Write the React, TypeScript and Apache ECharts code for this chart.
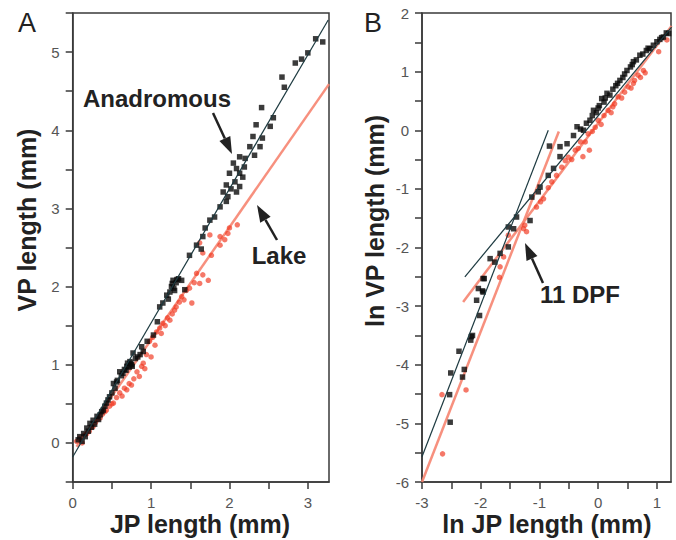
import React, { useEffect, useRef } from "react";
import * as echarts from "echarts";

const FONT = '"Liberation Sans", Arial, Helvetica, sans-serif';

// ---------- Panel A: VP length vs JP length (mm) ----------
const A_X_LABELS = [0, 1, 2, 3];
const A_X_TICKS = [0, 0.5, 1, 1.5, 2, 2.5, 3];
const A_Y_LABELS = [0, 1, 2, 3, 4, 5];
const A_Y_TICKS = [-0.5, 0, 0.5, 1, 1.5, 2, 2.5, 3, 3.5, 4, 4.5, 5, 5.5];

const A_ANADROMOUS = [
  [0.07, 0.04], [0.09, 0.08], [0.12, 0.02], [0.14, 0.12], [0.16, 0.08], [0.18, 0.19], [0.2, 0.15],
  [0.22, 0.25], [0.24, 0.2], [0.26, 0.29], [0.28, 0.24], [0.31, 0.34], [0.33, 0.3], [0.35, 0.36],
  [0.37, 0.4], [0.39, 0.42], [0.41, 0.47], [0.43, 0.51], [0.45, 0.55], [0.47, 0.59], [0.5, 0.64],
  [0.52, 0.76], [0.54, 0.7], [0.56, 0.78], [0.57, 0.8], [0.6, 0.91], [0.62, 0.86], [0.64, 0.89],
  [0.66, 0.94], [0.68, 0.93], [0.69, 0.98], [0.7, 1.02], [0.72, 0.97], [0.73, 1.04], [0.74, 1.02],
  [0.75, 1.0], [0.76, 0.98], [0.77, 1.15], [0.8, 1.08], [0.83, 1.1], [0.86, 1.13], [0.88, 1.23],
  [0.9, 1.17], [0.95, 1.3], [1.03, 1.38], [1.08, 1.55], [1.11, 1.74], [1.15, 1.79], [1.2, 1.89],
  [1.22, 1.84], [1.24, 1.93], [1.26, 2.0], [1.27, 2.04], [1.28, 2.08], [1.29, 1.98], [1.3, 1.95],
  [1.32, 2.05], [1.33, 2.09], [1.35, 2.1], [1.39, 2.08], [1.43, 1.96], [1.49, 2.4], [1.58, 2.53],
  [1.64, 2.48], [1.66, 2.64], [1.69, 2.75], [1.75, 2.85], [1.81, 2.89], [1.88, 3.02], [1.92, 3.21],
  [1.96, 3.09], [1.96, 3.3], [1.98, 3.15], [2.0, 3.45], [2.02, 3.25], [2.05, 3.58], [2.07, 3.34],
  [2.09, 3.51], [2.09, 3.21], [2.13, 3.66], [2.13, 3.45], [2.13, 3.28], [2.17, 3.4], [2.19, 3.53],
  [2.2, 3.64], [2.26, 3.79], [2.3, 3.92], [2.32, 3.68], [2.34, 4.07], [2.39, 3.79], [2.42, 3.9],
  [2.41, 4.29], [2.52, 4.05], [2.56, 4.16], [2.67, 4.68], [2.7, 4.55], [2.84, 4.86], [2.92, 4.91],
  [3.0, 4.99], [3.1, 5.17], [3.19, 5.13],
];

const A_LAKE = [
  [0.05, 0.02], [0.09, 0.06], [0.12, 0.0], [0.15, 0.1], [0.18, 0.12], [0.21, 0.15], [0.24, 0.2],
  [0.26, 0.21], [0.29, 0.26], [0.32, 0.3], [0.35, 0.32], [0.38, 0.37], [0.41, 0.4], [0.43, 0.42],
  [0.47, 0.47], [0.5, 0.5], [0.52, 0.51], [0.56, 0.58], [0.6, 0.64], [0.63, 0.6], [0.66, 0.7],
  [0.69, 0.68], [0.72, 0.76], [0.75, 0.74], [0.78, 0.82], [0.82, 0.91], [0.85, 0.85], [0.88, 0.98],
  [0.9, 1.02], [0.92, 0.95], [0.94, 1.13], [0.98, 1.3], [1.0, 1.1], [1.02, 1.35], [1.05, 1.25],
  [1.07, 1.42], [1.11, 1.47], [1.13, 1.4], [1.15, 1.53], [1.18, 1.5], [1.21, 1.6], [1.24, 1.57],
  [1.27, 1.65], [1.3, 1.7], [1.32, 1.74], [1.36, 1.8], [1.39, 1.87], [1.42, 1.83], [1.45, 1.95],
  [1.49, 1.98], [1.52, 1.79], [1.55, 2.05], [1.58, 2.17], [1.62, 2.04], [1.66, 2.15], [1.73, 2.08],
  [1.62, 2.56], [1.66, 2.43], [1.75, 2.66], [1.77, 2.4], [1.88, 2.64], [1.88, 2.53], [1.94, 2.6],
  [1.98, 2.68], [2.0, 2.75], [2.1, 2.79],
];

const A_ANADROMOUS_FIT = [[0, -0.18], [3.26, 5.41]];
const A_LAKE_FIT = [[0.05, -0.05], [3.27, 4.59]];

// ---------- Panel B: ln VP length vs ln JP length ----------
const B_X_LABELS = [-3, -2, -1, 0, 1];
const B_X_TICKS = [-3, -2.5, -2, -1.5, -1, -0.5, 0, 0.5, 1];
const B_Y_LABELS = [-6, -5, -4, -3, -2, -1, 0, 1, 2];
const B_Y_TICKS = [-6, -5.5, -5, -4.5, -4, -3.5, -3, -2.5, -2, -1.5, -1, -0.5, 0, 0.5, 1, 1.5, 2];

const B_ANADROMOUS = [
  [-2.52, -4.98], [-2.53, -4.51], [-2.51, -4.14], [-2.37, -3.77], [-2.31, -4.21], [-2.28, -4.08],
  [-2.17, -3.58], [-2.14, -3.5], [-2.16, -3.52], [-2.02, -3.16], [-2.07, -2.9], [-1.97, -2.74],
  [-1.94, -2.53], [-1.96, -2.76], [-2.04, -2.7], [-1.96, -2.53], [-1.84, -2.19], [-1.76, -2.25],
  [-1.67, -2.1], [-1.53, -1.99], [-1.53, -1.65], [-1.44, -1.68], [-1.39, -1.48], [-1.16, -1.54],
  [-1.13, -1.14], [-1.02, -1.05], [-0.99, -0.97], [-0.85, -0.77], [-0.83, -0.27], [-0.76, -0.65],
  [-0.65, -0.45], [-0.65, -0.28], [-0.53, -0.23], [-0.42, -0.09], [-0.36, 0.06], [-0.3, 0.02],
  [-0.25, 0.0], [-0.2, 0.12], [-0.14, 0.17], [-0.1, 0.25], [-0.08, 0.34], [-0.03, 0.3], [0.0, 0.38],
  [0.02, 0.42], [0.06, 0.54], [0.1, 0.48], [0.12, 0.55], [0.15, 0.63], [0.2, 0.6], [0.25, 0.7],
  [0.3, 0.76], [0.33, 0.8], [0.37, 0.85], [0.42, 0.9], [0.45, 0.96], [0.49, 1.02], [0.55, 1.08],
  [0.58, 1.12], [0.6, 1.17], [0.65, 1.2], [0.71, 1.28], [0.76, 1.3], [0.82, 1.36], [0.85, 1.4],
  [0.88, 1.39], [0.94, 1.45], [1.0, 1.51], [1.05, 1.55], [1.08, 1.58], [1.11, 1.59], [1.16, 1.66],
  [1.2, 1.65],
];

const B_LAKE = [
  [-2.65, -5.52], [-2.66, -4.51], [-2.25, -4.43], [-1.68, -2.51], [-1.67, -2.33], [-1.61, -2.16],
  [-1.53, -1.79], [-1.27, -1.68], [-1.22, -1.73], [-1.25, -1.62], [-1.05, -1.31], [-0.98, -1.22],
  [-0.93, -1.17], [-0.85, -0.98], [-0.79, -0.88], [-0.71, -0.77], [-0.62, -0.63], [-0.56, -0.52],
  [-0.51, -0.46], [-0.45, -0.5], [-0.39, -0.34], [-0.34, -0.31], [-0.3, -0.2], [-0.26, -0.45],
  [-0.22, -0.2], [-0.17, -0.06], [-0.15, -0.34], [-0.1, -0.02], [-0.05, 0.05], [0.0, 0.17],
  [0.05, 0.1], [0.1, 0.25], [0.17, 0.34], [0.22, 0.3], [0.25, 0.4], [0.28, 0.45], [0.34, 0.57],
  [0.4, 0.55], [0.45, 0.65], [0.51, 0.74], [0.56, 0.72], [0.6, 0.8], [0.62, 0.85], [0.68, 0.94],
  [0.72, 0.9], [0.77, 1.02], [0.8, 0.98], [1.03, 1.34], [1.17, 1.54],
];

const B_ANADROMOUS_EARLY_FIT = [[-3, -5.57], [-0.85, 0]];
const B_ANADROMOUS_LATE_FIT = [[-2.27, -2.5], [1.25, 1.76]];
const B_LAKE_EARLY_FIT = [[-3, -6], [-0.67, -0.02]];
const B_LAKE_LATE_FIT = [[-2.3, -2.93], [1.25, 1.78]];

const AXIS_COLOR = "#3a3a3a";
const BLACK_PT = "#0a0a0a";
const RED_PT = "rgba(240,56,32,0.85)";
const BLACK_LINE = "#1d3a40";
const RED_LINE = "rgba(246,132,112,0.9)";

function arrow(x1: number, y1: number, x2: number, y2: number) {
  const headLen = 17;
  const headW = 6;
  const dx = x2 - x1;
  const dy = y2 - y1;
  const L = Math.hypot(dx, dy);
  const ux = dx / L;
  const uy = dy / L;
  const bx = x2 - ux * headLen;
  const by = y2 - uy * headLen;
  const px = -uy;
  const py = ux;
  return [
    { type: "line", shape: { x1, y1, x2: bx, y2: by }, style: { stroke: "#222", lineWidth: 2.5 } },
    {
      type: "polygon",
      shape: { points: [[x2, y2], [bx + px * headW, by + py * headW], [bx - px * headW, by - py * headW]] },
      style: { fill: "#222" },
    },
  ];
}

function txt(text: string, x: number, y: number, size: number, bold: boolean, rotate = 0) {
  return {
    type: "text",
    x,
    y,
    rotation: rotate,
    style: {
      text,
      fontSize: size,
      fontWeight: bold ? "bold" : "normal",
      fontFamily: FONT,
      fill: "#222",
      align: "center",
      verticalAlign: "middle",
    },
  };
}

function valueAxis(min: number, max: number, labels: number[], ticks: number[], gridIndex: number) {
  return {
    type: "value",
    gridIndex,
    min,
    max,
    axisLine: { show: true, onZero: false, lineStyle: { color: AXIS_COLOR, width: 1.5 } },
    axisTick: { show: true, inside: false, length: 7, customValues: ticks, lineStyle: { color: AXIS_COLOR, width: 1.5 } },
    axisLabel: { customValues: labels, color: "#555", fontSize: 15, fontFamily: FONT, margin: 13 },
    splitLine: { show: false },
  };
}

function fitLine(data: number[][], xi: number, color: string, width: number, z: number) {
  return {
    type: "line",
    xAxisIndex: xi,
    yAxisIndex: xi,
    data,
    symbol: "none",
    showSymbol: false,
    silent: true,
    z,
    lineStyle: { color, width },
  };
}

function scatter(data: number[][], xi: number, symbol: string, size: number, color: string, z: number) {
  return {
    type: "scatter",
    xAxisIndex: xi,
    yAxisIndex: xi,
    data,
    symbol,
    symbolSize: size,
    z,
    itemStyle: { color },
  };
}

export default function App() {
  const ref = useRef<HTMLDivElement>(null);
  useEffect(() => {
    if (!ref.current) return;
    const chart = echarts.init(ref.current, null, { renderer: "svg" });
    chart.setOption({
      animation: false,
      backgroundColor: "#ffffff",
      grid: [
        { left: 72.7, top: 13, width: 256.3, height: 469, show: true, borderColor: AXIS_COLOR, borderWidth: 1.5 },
        { left: 422, top: 13, width: 249, height: 469, show: true, borderColor: AXIS_COLOR, borderWidth: 1.5 },
      ],
      xAxis: [
        valueAxis(0, 3.27, A_X_LABELS, A_X_TICKS, 0),
        valueAxis(-3, 1.24, B_X_LABELS, B_X_TICKS, 1),
      ],
      yAxis: [
        valueAxis(-0.5, 5.5, A_Y_LABELS, A_Y_TICKS, 0),
        valueAxis(-6, 2, B_Y_LABELS, B_Y_TICKS, 1),
      ],
      series: [
        fitLine(A_LAKE_FIT, 0, RED_LINE, 2.5, 1),
        scatter(A_LAKE, 0, "circle", 5.5, RED_PT, 2),
        scatter(A_ANADROMOUS, 0, "rect", 5.5, BLACK_PT, 3),
        fitLine(A_ANADROMOUS_FIT, 0, BLACK_LINE, 1.2, 4),
        fitLine(B_LAKE_EARLY_FIT, 1, RED_LINE, 2.5, 1),
        fitLine(B_LAKE_LATE_FIT, 1, RED_LINE, 2.5, 1),
        scatter(B_LAKE, 1, "circle", 5.5, RED_PT, 2),
        scatter(B_ANADROMOUS, 1, "rect", 5.5, BLACK_PT, 3),
        fitLine(B_ANADROMOUS_EARLY_FIT, 1, BLACK_LINE, 1.2, 4),
        fitLine(B_ANADROMOUS_LATE_FIT, 1, BLACK_LINE, 1.2, 4),
      ],
      graphic: [
        txt("A", 27, 23, 27, false),
        txt("B", 373, 23, 27, false),
        txt("VP length (mm)", 27, 220, 25, true, Math.PI / 2),
        txt("ln VP length (mm)", 375, 221, 25, true, Math.PI / 2),
        txt("JP length (mm)", 200, 524, 25, true),
        txt("ln JP length (mm)", 547, 524, 25, true),
        txt("Anadromous", 157, 98, 24, true),
        txt("Lake", 279, 255, 24, true),
        txt("11 DPF", 580, 294, 24, true),
        ...arrow(213, 113, 232, 154),
        ...arrow(277, 240, 257, 205),
        ...arrow(543, 283, 525, 243),
      ],
    });
    return () => chart.dispose();
  }, []);
  return (
    <div
      ref={ref}
      style={{ position: "absolute", left: 0, top: 0, width: 676, height: 540 }}
    />
  );
}
